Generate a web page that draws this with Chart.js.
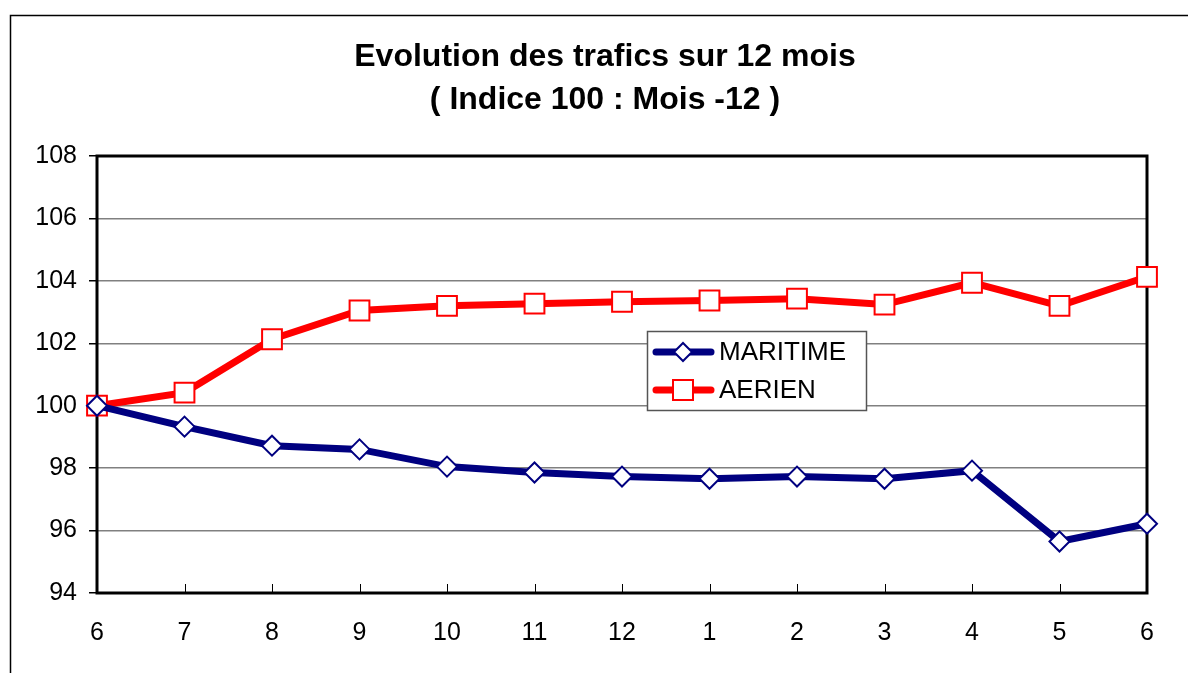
<!DOCTYPE html>
<html>
<head>
<meta charset="utf-8">
<script src="https://cdn.jsdelivr.net/npm/chart.js@4.4.1/dist/chart.umd.min.js"></script>
<style>
  html, body { margin: 0; padding: 0; background: #fff; }
  #wrap { width: 1188px; height: 673px; position: relative; }
</style>
</head>
<body>
<div id="wrap"><canvas id="trafics"></canvas></div>
<script>
// Chart data
const months = ['6', '7', '8', '9', '10', '11', '12', '1', '2', '3', '4', '5', '6'];
const maritime = [100, 99.33, 98.72, 98.6, 98.05, 97.86, 97.73, 97.66, 97.73, 97.66, 97.92, 95.65, 96.22];
const aerien = [100, 100.42, 102.13, 103.05, 103.2, 103.27, 103.33, 103.37, 103.43, 103.24, 103.94, 103.2, 104.13];
const titleLines = ['Evolution des trafics sur 12 mois', '( Indice 100 : Mois -12 )'];

const NAVY = '#000080';
const RED = '#FF0000';

// Frame, plot border, inner x ticks and the boxed legend
const framePlugin = {
    id: 'frame',
    afterLayout(chart) {
        // the original title is centred a little right of the canvas middle
        if (chart.titleBlock) {
            chart.titleBlock.left = 63;
            chart.titleBlock.right = 1147;
        }
    },
    beforeDraw(chart) {
        const c = chart.ctx;
        c.save();
        c.fillStyle = '#fff';
        c.fillRect(0, 0, chart.width, chart.height);
        c.strokeStyle = '#000';
        c.lineWidth = 1.5;
        c.strokeRect(10.5, 15.5, chart.width + 20, chart.height + 20);
        c.restore();
    },
    beforeDatasetsDraw(chart) {
        const c = chart.ctx;
        const a = chart.chartArea;
        const x = chart.scales.x;
        c.save();
        c.strokeStyle = '#000';
        c.lineWidth = 1;
        for (let i = 1; i < months.length - 1; i++) {
            const px = Math.round(x.getPixelForTick(i)) + 0.5;
            c.beginPath();
            c.moveTo(px, a.bottom);
            c.lineTo(px, a.bottom - 9);
            c.stroke();
        }
        c.lineWidth = 3;
        c.strokeRect(a.left, a.top, a.right - a.left, a.bottom - a.top);
        c.restore();
    },
    afterDraw(chart) {
        const c = chart.ctx;
        const box = { x: 647.5, y: 331.5, w: 219, h: 79 };
        c.save();
        c.fillStyle = '#fff';
        c.fillRect(box.x, box.y, box.w, box.h);
        c.strokeStyle = '#555';
        c.lineWidth = 1.5;
        c.strokeRect(box.x, box.y, box.w, box.h);
        c.font = '26px "Liberation Sans", Arial, sans-serif';
        c.textBaseline = 'middle';
        c.fillStyle = '#000';
        chart.data.datasets.forEach((ds, i) => {
            const y = 352 + i * 38;
            c.strokeStyle = ds.borderColor;
            c.lineWidth = 7;
            c.lineCap = 'round';
            c.beginPath();
            c.moveTo(656, y);
            c.lineTo(711, y);
            c.stroke();
            c.fillStyle = '#fff';
            c.lineWidth = 2;
            c.beginPath();
            if (ds.pointStyle === 'rectRot') {
                c.moveTo(683 - 9, y);
                c.lineTo(683, y - 9);
                c.lineTo(683 + 9, y);
                c.lineTo(683, y + 9);
                c.closePath();
            } else {
                c.rect(683 - 10, y - 10, 20, 20);
            }
            c.fill();
            c.stroke();
            c.fillStyle = '#000';
            c.fillText(ds.label, 719, y + 1);
        });
        c.restore();
    }
};

const ctx = document.getElementById('trafics');
new Chart(ctx, {
    type: 'line',
    data: {
        labels: months,
        datasets: [
            {
                label: 'MARITIME',
                data: maritime,
                borderColor: NAVY,
                borderWidth: 7,
                pointStyle: 'rectRot',
                pointRadius: 10,
                pointBorderWidth: 2,
                pointBackgroundColor: '#fff',
                pointBorderColor: NAVY,
                tension: 0,
                clip: false
            },
            {
                label: 'AERIEN',
                data: aerien,
                borderColor: RED,
                borderWidth: 7,
                pointStyle: 'rect',
                pointRadius: 14,
                pointBorderWidth: 2,
                pointBackgroundColor: '#fff',
                pointBorderColor: RED,
                tension: 0,
                clip: false
            }
        ]
    },
    options: {
        responsive: true,
        maintainAspectRatio: false,
        animation: false,
        layout: {
            padding: { left: 0, right: 41, top: 0, bottom: 0 }
        },
        plugins: {
            legend: { display: false },
            tooltip: { enabled: false },
            title: {
                display: true,
                text: titleLines,
                color: '#000',
                font: { family: '"Liberation Sans", Arial, sans-serif', size: 32, weight: 'bold', lineHeight: 43 / 32 },
                padding: { top: 36, bottom: 34 }
            }
        },
        scales: {
            x: {
                offset: false,
                grid: { display: false },
                border: { display: false },
                ticks: {
                    color: '#000',
                    padding: 17,
                    maxRotation: 0,
                    font: { family: '"Liberation Sans", Arial, sans-serif', size: 25 }
                },
                afterFit(scale) { scale.height = 80; }
            },
            y: {
                min: 94,
                max: 108,
                grid: {
                    color: '#808080',
                    lineWidth: 1.5,
                    tickLength: 8,
                    tickColor: '#000'
                },
                border: { display: false },
                ticks: {
                    stepSize: 2,
                    color: '#000',
                    padding: 12,
                    font: { family: '"Liberation Sans", Arial, sans-serif', size: 25 }
                },
                afterFit(scale) { scale.width = 97; }
            }
        }
    },
    plugins: [framePlugin]
});
</script>
</body>
</html>
